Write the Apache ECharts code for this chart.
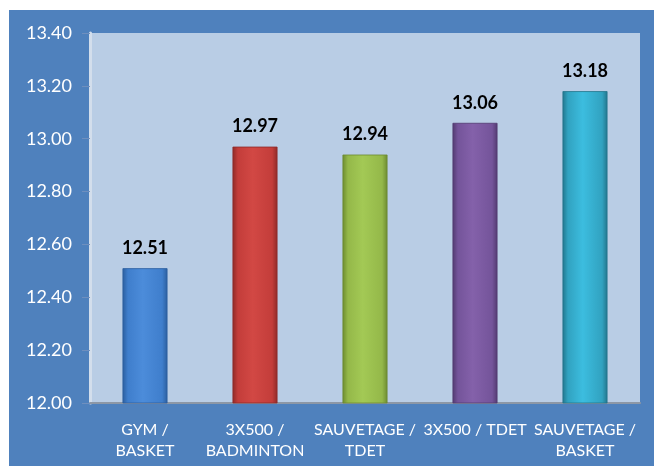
<!DOCTYPE html>
<html>
<head>
<meta charset="utf-8">
<script src="https://cdn.jsdelivr.net/npm/echarts@6/dist/echarts.min.js"></script>
<style>
html,body{margin:0;padding:0;background:#ffffff;width:654px;height:466px;overflow:hidden;}
#chart{position:absolute;left:9px;top:10px;width:645px;height:456px;}
</style>
</head>
<body>
<div id="chart"></div>
<script>
const categories = ["GYM /\nBASKET", "3X500 /\nBADMINTON", "SAUVETAGE /\nTDET", "3X500 / TDET", "SAUVETAGE /\nBASKET"];
const values = [12.51, 12.97, 12.94, 13.06, 13.18];
const barTop = ["#4C8CDA", "#D24844", "#A3C955", "#8461AA", "#3CBDDF"];
const barMid = ["#3F7ECC", "#C33D3A", "#94B849", "#74549A", "#31A2C0"];
const barEdge = ["#2B5E9E", "#8E2A28", "#6C8A30", "#523A70", "#22758C"];
const yMin = 12.0, yMax = 13.4, yStep = 0.2;

const chart = echarts.init(document.getElementById('chart'));
const data = values.map((v, i) => ({
  value: v,
  itemStyle: {
    color: new echarts.graphic.LinearGradient(0, 0, 1, 0, [
      {offset: 0, color: barEdge[i]},
      {offset: 0.12, color: barMid[i]},
      {offset: 0.45, color: barTop[i]},
      {offset: 0.88, color: barMid[i]},
      {offset: 1, color: barEdge[i]}
    ]),
    borderColor: barEdge[i],
    borderWidth: 0.8
  }
}));

chart.setOption({
  backgroundColor: '#4F81BD',
  animation: false,
  grid: {
    left: 81, right: 14, top: 23, bottom: 63,
    show: true, backgroundColor: '#B9CDE5', borderWidth: 0
  },
  xAxis: {
    type: 'category',
    data: categories,
    axisLine: {show: true, lineStyle: {color: '#8C97A6', width: 2}},
    axisTick: {show: false},
    axisLabel: {
      color: '#FFFFFF', fontFamily: 'Lato', fontSize: 16, lineHeight: 21,
      interval: 0, margin: 16
    }
  },
  yAxis: {
    type: 'value',
    min: yMin, max: yMax, interval: yStep,
    axisLine: {show: true, lineStyle: {color: '#D3DEEC', width: 3}},
    axisTick: {show: true, length: 8, lineStyle: {color: '#6F8FBE', width: 1}},
    splitLine: {show: false},
    axisLabel: {
      color: '#FFFFFF', fontFamily: 'Lato', fontSize: 18, margin: 18,
      formatter: v => v.toFixed(2)
    }
  },
  series: [{
    type: 'bar',
    data: data,
    barWidth: 45,
    label: {
      show: true, position: 'top', distance: 11,
      color: '#000000', fontFamily: 'Lato', fontWeight: 'bold', fontSize: 18,
      formatter: p => p.value.toFixed(2)
    }
  }]
});
</script>
</body>
</html>
